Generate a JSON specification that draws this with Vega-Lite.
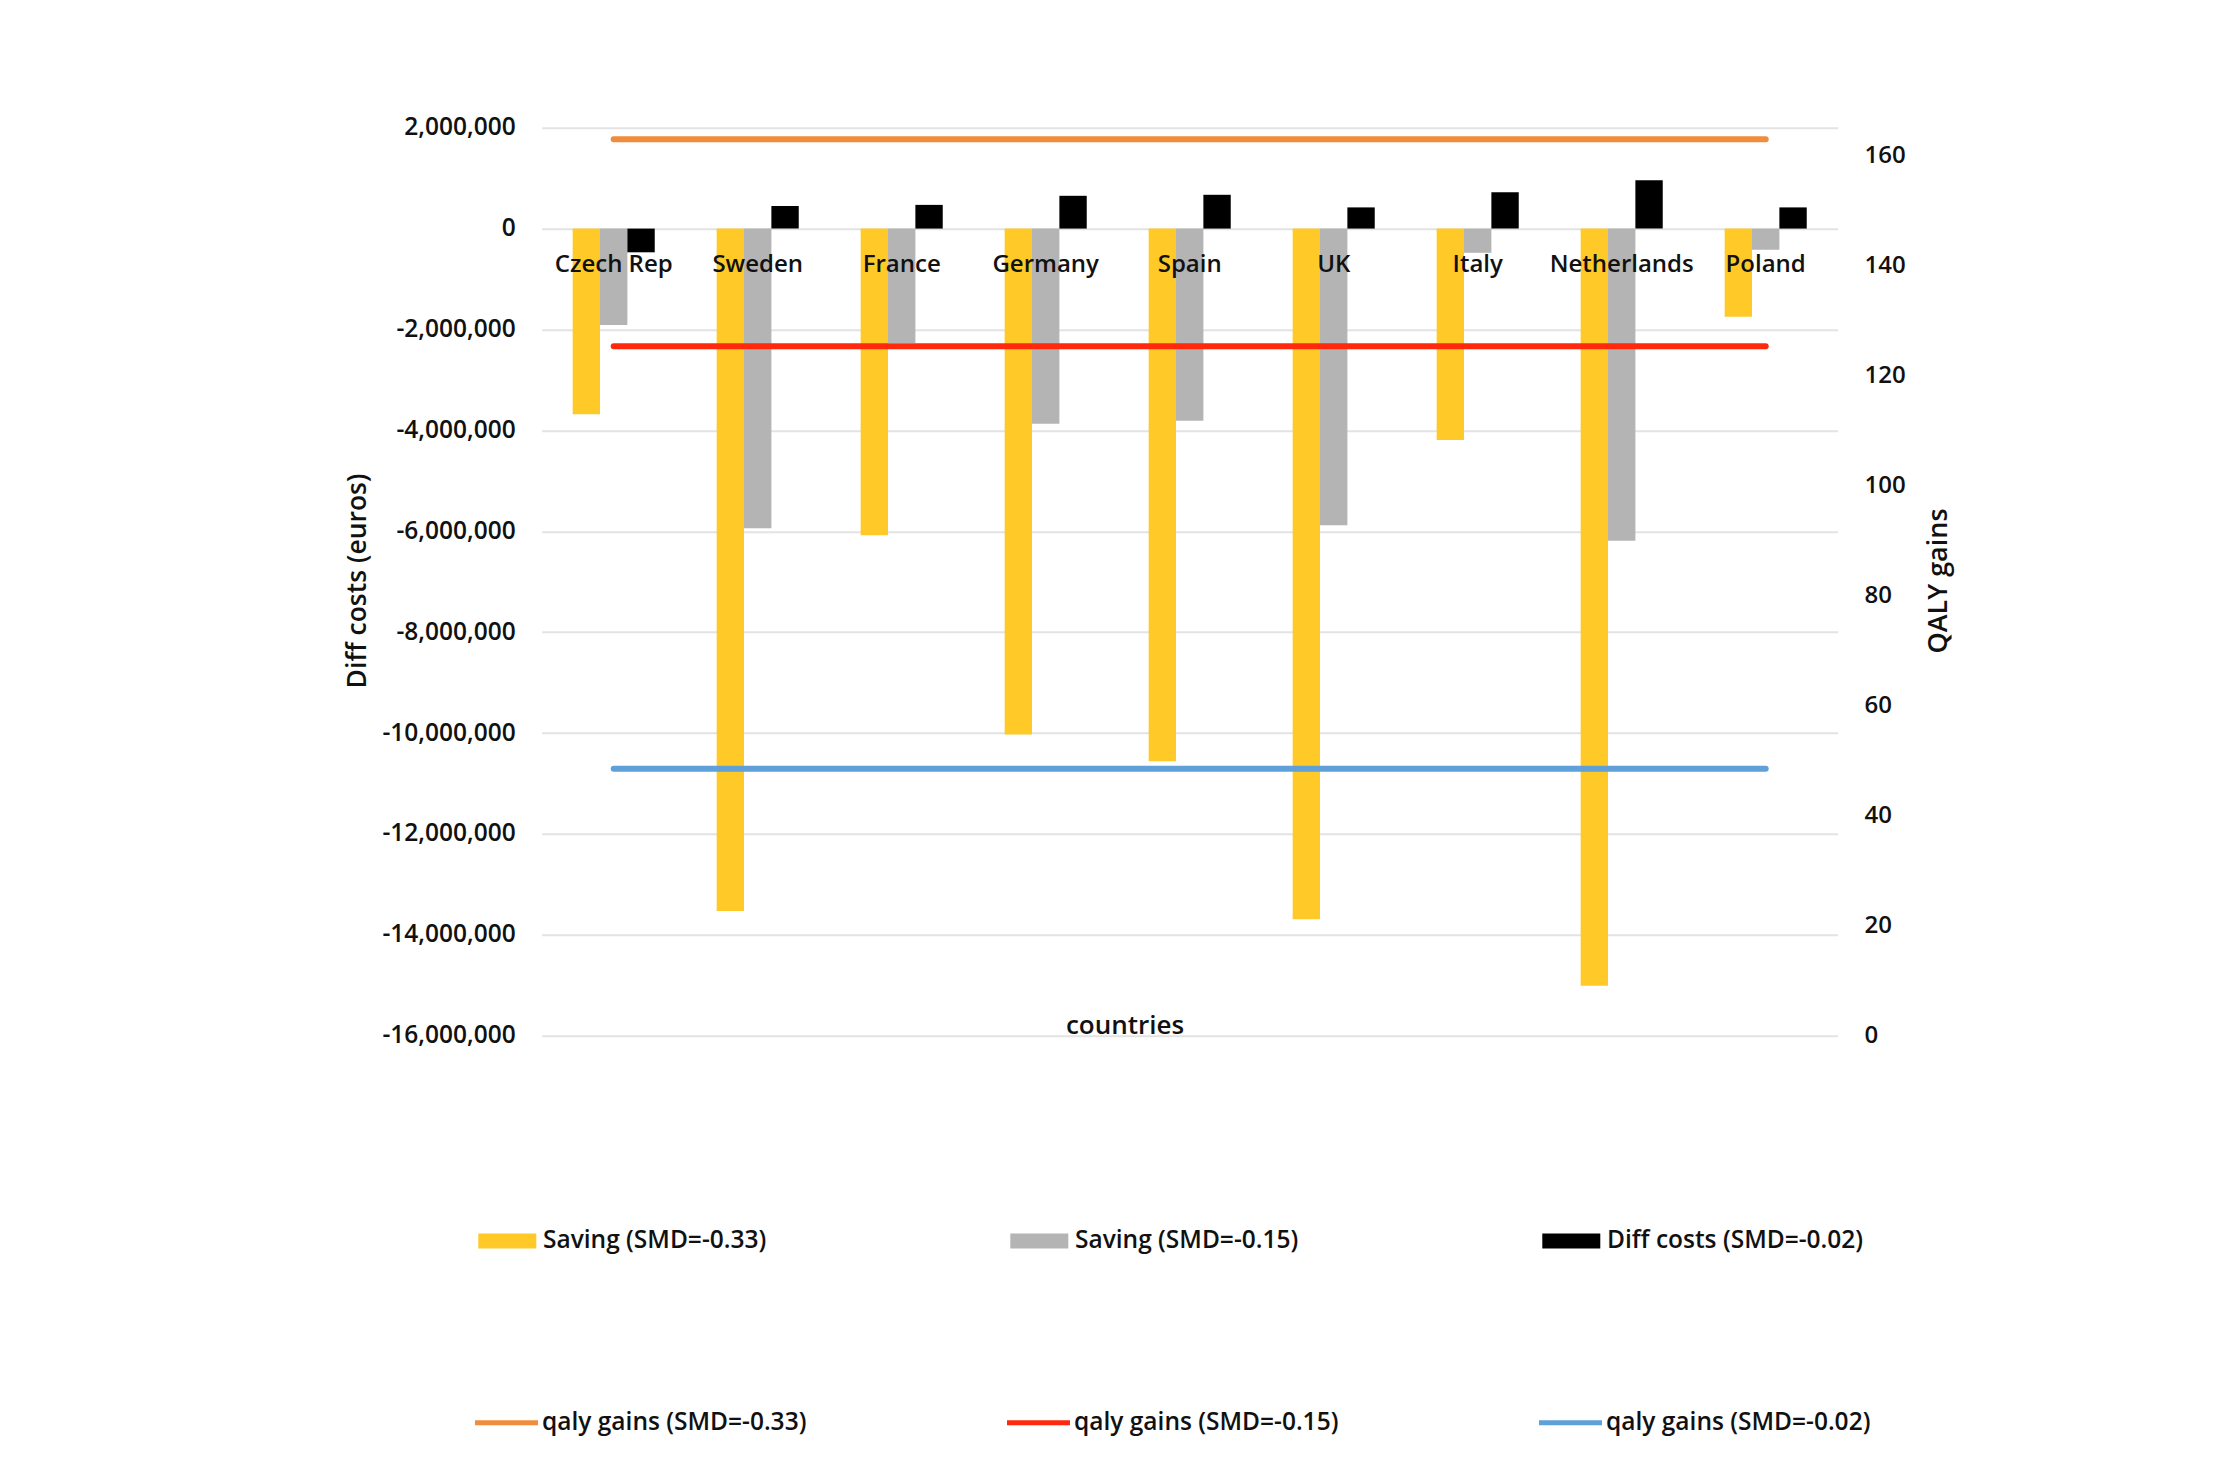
{
  "$schema": "https://vega.github.io/schema/vega-lite/v6.json",
  "autosize": {"type": "none"},
  "width": 1296,
  "height": 908,
  "padding": {"left": 541.7, "top": 127.7, "right": 388.3, "bottom": 440.3},
  "background": "white",
  "config": {
    "view": {"stroke": null},
    "font": "Open Sans",
    "axis": {
      "labelFont": "Open Sans", "labelFontWeight": 600, "labelFontSize": 24.5, "labelColor": "#111111",
      "titleFont": "Open Sans", "titleFontWeight": 600, "titleFontSize": 26.5, "titleColor": "#111111",
      "domain": false, "ticks": false
    },
    "legend": {
      "labelFont": "Open Sans", "labelFontWeight": 600, "labelFontSize": 24.5, "labelColor": "#111111",
      "labelLimit": 500, "padding": 0
    }
  },
  "datasets": {
    "bars": [
      {"country": "Czech Rep", "series": "Saving (SMD=-0.33)", "value": -3680000},
      {"country": "Czech Rep", "series": "Saving (SMD=-0.15)", "value": -1910000},
      {"country": "Czech Rep", "series": "Diff costs (SMD=-0.02)", "value": -470000},
      {"country": "Sweden", "series": "Saving (SMD=-0.33)", "value": -13530000},
      {"country": "Sweden", "series": "Saving (SMD=-0.15)", "value": -5940000},
      {"country": "Sweden", "series": "Diff costs (SMD=-0.02)", "value": 450000},
      {"country": "France", "series": "Saving (SMD=-0.33)", "value": -6080000},
      {"country": "France", "series": "Saving (SMD=-0.15)", "value": -2270000},
      {"country": "France", "series": "Diff costs (SMD=-0.02)", "value": 470000},
      {"country": "Germany", "series": "Saving (SMD=-0.33)", "value": -10030000},
      {"country": "Germany", "series": "Saving (SMD=-0.15)", "value": -3870000},
      {"country": "Germany", "series": "Diff costs (SMD=-0.02)", "value": 650000},
      {"country": "Spain", "series": "Saving (SMD=-0.33)", "value": -10560000},
      {"country": "Spain", "series": "Saving (SMD=-0.15)", "value": -3810000},
      {"country": "Spain", "series": "Diff costs (SMD=-0.02)", "value": 670000},
      {"country": "UK", "series": "Saving (SMD=-0.33)", "value": -13690000},
      {"country": "UK", "series": "Saving (SMD=-0.15)", "value": -5880000},
      {"country": "UK", "series": "Diff costs (SMD=-0.02)", "value": 420000},
      {"country": "Italy", "series": "Saving (SMD=-0.33)", "value": -4190000},
      {"country": "Italy", "series": "Saving (SMD=-0.15)", "value": -480000},
      {"country": "Italy", "series": "Diff costs (SMD=-0.02)", "value": 720000},
      {"country": "Netherlands", "series": "Saving (SMD=-0.33)", "value": -15010000},
      {"country": "Netherlands", "series": "Saving (SMD=-0.15)", "value": -6190000},
      {"country": "Netherlands", "series": "Diff costs (SMD=-0.02)", "value": 960000},
      {"country": "Poland", "series": "Saving (SMD=-0.33)", "value": -1750000},
      {"country": "Poland", "series": "Saving (SMD=-0.15)", "value": -420000},
      {"country": "Poland", "series": "Diff costs (SMD=-0.02)", "value": 420000}
    ],
    "lines": [
      {"country": "Czech Rep", "series": "qaly gains (SMD=-0.33)", "qaly": 162.9},
      {"country": "Sweden", "series": "qaly gains (SMD=-0.33)", "qaly": 162.9},
      {"country": "France", "series": "qaly gains (SMD=-0.33)", "qaly": 162.9},
      {"country": "Germany", "series": "qaly gains (SMD=-0.33)", "qaly": 162.9},
      {"country": "Spain", "series": "qaly gains (SMD=-0.33)", "qaly": 162.9},
      {"country": "UK", "series": "qaly gains (SMD=-0.33)", "qaly": 162.9},
      {"country": "Italy", "series": "qaly gains (SMD=-0.33)", "qaly": 162.9},
      {"country": "Netherlands", "series": "qaly gains (SMD=-0.33)", "qaly": 162.9},
      {"country": "Poland", "series": "qaly gains (SMD=-0.33)", "qaly": 162.9},
      {"country": "Czech Rep", "series": "qaly gains (SMD=-0.15)", "qaly": 125.3},
      {"country": "Sweden", "series": "qaly gains (SMD=-0.15)", "qaly": 125.3},
      {"country": "France", "series": "qaly gains (SMD=-0.15)", "qaly": 125.3},
      {"country": "Germany", "series": "qaly gains (SMD=-0.15)", "qaly": 125.3},
      {"country": "Spain", "series": "qaly gains (SMD=-0.15)", "qaly": 125.3},
      {"country": "UK", "series": "qaly gains (SMD=-0.15)", "qaly": 125.3},
      {"country": "Italy", "series": "qaly gains (SMD=-0.15)", "qaly": 125.3},
      {"country": "Netherlands", "series": "qaly gains (SMD=-0.15)", "qaly": 125.3},
      {"country": "Poland", "series": "qaly gains (SMD=-0.15)", "qaly": 125.3},
      {"country": "Czech Rep", "series": "qaly gains (SMD=-0.02)", "qaly": 48.5},
      {"country": "Sweden", "series": "qaly gains (SMD=-0.02)", "qaly": 48.5},
      {"country": "France", "series": "qaly gains (SMD=-0.02)", "qaly": 48.5},
      {"country": "Germany", "series": "qaly gains (SMD=-0.02)", "qaly": 48.5},
      {"country": "Spain", "series": "qaly gains (SMD=-0.02)", "qaly": 48.5},
      {"country": "UK", "series": "qaly gains (SMD=-0.02)", "qaly": 48.5},
      {"country": "Italy", "series": "qaly gains (SMD=-0.02)", "qaly": 48.5},
      {"country": "Netherlands", "series": "qaly gains (SMD=-0.02)", "qaly": 48.5},
      {"country": "Poland", "series": "qaly gains (SMD=-0.02)", "qaly": 48.5}
    ]
  },
  "layer": [
    {
      "data": {"name": "bars"},
      "mark": {"type": "bar", "strokeWidth": 0},
      "encoding": {
        "x": {
          "field": "country", "type": "nominal",
          "sort": ["Czech Rep", "Sweden", "France", "Germany", "Spain", "UK", "Italy", "Netherlands", "Poland"],
          "scale": {"paddingInner": 0.43, "paddingOuter": 0.215},
          "axis": {
            "orient": "bottom", "labelAngle": 0, "labelPadding": -763.7, "labelBaseline": "alphabetic",
            "labelFontSize": 24, "zindex": 1, "grid": false,
            "title": "countries", "titleX": 582.8, "titleY": -10.7, "titleBaseline": "middle", "titleFontSize": 26
          }
        },
        "xOffset": {
          "field": "series", "type": "nominal",
          "sort": ["Saving (SMD=-0.33)", "Saving (SMD=-0.15)", "Diff costs (SMD=-0.02)"],
          "scale": {"paddingInner": 0, "paddingOuter": 0}
        },
        "y": {
          "field": "value", "type": "quantitative",
          "scale": {"domain": [-16000000, 2000000], "nice": false, "zero": false},
          "axis": {
            "orient": "left",
            "labelExpr": "replace(format(datum.value, ','), '\u2212', '-')",
            "values": [-16000000, -14000000, -12000000, -10000000, -8000000, -6000000, -4000000, -2000000, 0, 2000000],
            "grid": true, "gridColor": "#E3E3E3", "gridWidth": 2, "labelPadding": 26.5,
            "title": "Diff costs (euros)", "titleX": -184.2, "titleY": 452.8, "titleAngle": -90, "titleBaseline": "middle", "titleAlign": "center"
          }
        },
        "fill": {
          "field": "series", "type": "nominal",
          "scale": {
            "domain": ["Saving (SMD=-0.33)", "Saving (SMD=-0.15)", "Diff costs (SMD=-0.02)"],
            "range": ["#FFCA28", "#B4B4B4", "#000000"]
          },
          "legend": {
            "title": null, "orient": "none", "legendX": -63.4, "legendY": 1084,
            "direction": "horizontal", "columns": 3, "columnPadding": 244,
            "symbolType": "M-1,-0.26H1V0.26H-1Z", "symbolSize": 3364, "symbolStrokeWidth": 0,
            "labelOffset": 6.7
          }
        }
      }
    },
    {
      "data": {"name": "lines"},
      "mark": {"type": "line", "strokeWidth": 6, "strokeCap": "round"},
      "encoding": {
        "x": {
          "field": "country", "type": "nominal",
          "sort": ["Czech Rep", "Sweden", "France", "Germany", "Spain", "UK", "Italy", "Netherlands", "Poland"]
        },
        "y": {
          "field": "qaly", "type": "quantitative",
          "scale": {"domain": [0, 165], "nice": false},
          "axis": {
            "orient": "right", "values": [0, 20, 40, 60, 80, 100, 120, 140, 160],
            "grid": false, "labelPadding": 26.3, "labelFontSize": 24,
            "title": "QALY gains", "titleX": 100.5, "titleY": 452.8, "titleAngle": 270, "titleBaseline": "middle", "titleAlign": "center", "titleFontSize": 27
          }
        },
        "stroke": {
          "field": "series", "type": "nominal",
          "scale": {
            "domain": ["qaly gains (SMD=-0.33)", "qaly gains (SMD=-0.15)", "qaly gains (SMD=-0.02)"],
            "range": ["#F08C3C", "#FF2A0E", "#5FA0D8"]
          },
          "legend": {
            "title": null, "orient": "none", "legendX": -69.2, "legendY": 1260.8,
            "direction": "horizontal", "columns": 3, "columnPadding": 190,
            "symbolType": "stroke", "symbolSize": 3969, "symbolStrokeWidth": 5,
            "labelOffset": 1.5
          }
        }
      }
    }
  ],
  "resolve": {"scale": {"y": "independent"}}
}
